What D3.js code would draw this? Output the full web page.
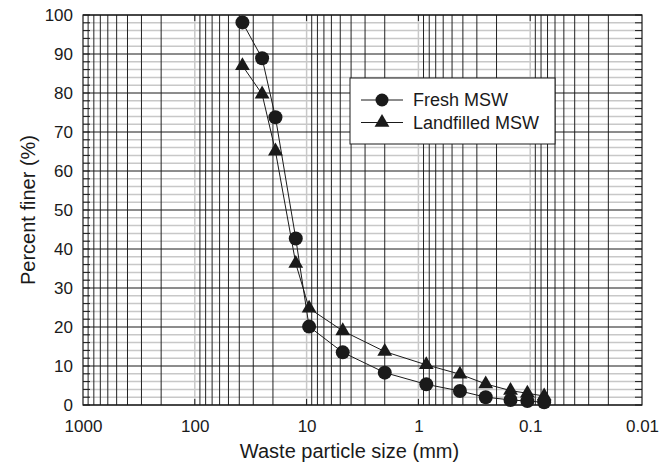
<!DOCTYPE html>
<html>
<head>
<meta charset="utf-8">
<script src="https://cdn.jsdelivr.net/npm/d3@7"></script>
<style>
  body { margin: 0; background: #fff; }
  svg text { font-family: "Liberation Sans", Arial, sans-serif; fill: #1a1a1a; }
</style>
</head>
<body>
<div id="chart"></div>
<script>
// sieve sizes (mm) and percent finer for each sample
var sizes = [37.5, 25, 19, 12.5, 9.5, 4.75, 2.0, 0.85, 0.425, 0.25, 0.15, 0.106, 0.075];
var freshPct = [98.1, 88.9, 73.8, 42.7, 20.1, 13.5, 8.3, 5.3, 3.6, 2.0, 1.3, 1.0, 0.7];
var landfilledPct = [87.0, 79.7, 65.1, 36.3, 24.8, 19.0, 13.7, 10.3, 7.9, 5.4, 3.7, 3.0, 2.3];
var xTicks = [1000, 100, 10, 1, 0.1, 0.01];
var xTickLabels = ["1000", "100", "10", "1", "0.1", "0.01"];
var yTicks = [0, 10, 20, 30, 40, 50, 60, 70, 80, 90, 100];
var seriesNames = ["Fresh MSW", "Landfilled MSW"];

var W = 659, H = 475;
var margin = {top: 15, right: 17, bottom: 70, left: 83};

var svg = d3.select("#chart").append("svg")
    .attr("width", W)
    .attr("height", H);

var x = d3.scaleLog().domain([1000, 0.01]).range([margin.left, W - margin.right]);
var y = d3.scaleLinear().domain([0, 100]).range([H - margin.bottom, margin.top]);

var grid = svg.append("g");

// light horizontal lines every 2 %
var minorY = d3.range(0, 101, 2).filter(function(d){ return d % 10 !== 0; });
grid.selectAll(".hminor").data(minorY).enter().append("line")
    .attr("x1", x.range()[0]).attr("x2", x.range()[1])
    .attr("y1", d => y(d)).attr("y2", d => y(d))
    .attr("stroke", "#c8c8c8").attr("stroke-width", 1.5);

// decade lines are light with short black ticks
grid.selectAll(".vdec").data(xTicks.slice(1, -1)).enter().append("line")
    .attr("x1", d => x(d)).attr("x2", d => x(d))
    .attr("y1", y(0)).attr("y2", y(100))
    .attr("stroke", "#c8c8c8").attr("stroke-width", 1.5);

// sub-decade vertical lines 2..9
var minorX = [];
[100, 10, 1, 0.1, 0.01].forEach(function(dec){
  for (var k = 2; k <= 9; k++) minorX.push(k * dec);
});
grid.selectAll(".vminor").data(minorX).enter().append("line")
    .attr("x1", d => x(d)).attr("x2", d => x(d))
    .attr("y1", y(0)).attr("y2", y(100))
    .attr("stroke", "#222").attr("stroke-width", 1);

// black horizontal lines every 10 %
grid.selectAll(".hmajor").data(yTicks).enter().append("line")
    .attr("x1", x.range()[0]).attr("x2", x.range()[1])
    .attr("y1", d => y(d)).attr("y2", d => y(d))
    .attr("stroke", "#1a1a1a").attr("stroke-width", 1);

// inward ticks on both sides every 2 %
var sideTicks = d3.range(0, 101, 2);
[x.range()[0], x.range()[1]].forEach(function(px, i){
  var dir = i === 0 ? 1 : -1;
  grid.selectAll(".st" + i).data(sideTicks).enter().append("line")
      .attr("x1", px).attr("x2", px + dir * 7)
      .attr("y1", d => y(d)).attr("y2", d => y(d))
      .attr("stroke", "#1a1a1a").attr("stroke-width", 1);
});

// short ticks at decades, top and bottom
xTicks.slice(1, -1).forEach(function(d){
  grid.append("line").attr("x1", x(d)).attr("x2", x(d))
      .attr("y1", y(100)).attr("y2", y(100) + 6).attr("stroke", "#1a1a1a");
  grid.append("line").attr("x1", x(d)).attr("x2", x(d))
      .attr("y1", y(0)).attr("y2", y(0) - 6).attr("stroke", "#1a1a1a");
});

// frame
svg.append("rect")
    .attr("x", x.range()[0]).attr("y", y(100))
    .attr("width", x.range()[1] - x.range()[0])
    .attr("height", y(0) - y(100))
    .attr("fill", "none").attr("stroke", "#1a1a1a").attr("stroke-width", 1.2);

// axes (labels only, ticks drawn above)
var xAxis = d3.axisBottom(x).tickValues(xTicks)
    .tickFormat((d, i) => xTickLabels[i]).tickSize(0).tickPadding(15);
var gx = svg.append("g").attr("transform", "translate(0," + y(0) + ")").call(xAxis);
gx.select(".domain").remove();
gx.selectAll("text").style("font-size", "17px").attr("font-family", null);

var yAxis = d3.axisLeft(y).tickValues(yTicks).tickSize(0).tickPadding(10);
var gy = svg.append("g").attr("transform", "translate(" + x.range()[0] + ",0)").call(yAxis);
gy.select(".domain").remove();
gy.selectAll("text").style("font-size", "17px").attr("font-family", null);

svg.append("text")
    .attr("x", (x.range()[0] + x.range()[1]) / 2 - 13)
    .attr("y", 458)
    .attr("text-anchor", "middle")
    .style("font-size", "20px")
    .text("Waste particle size (mm)");

svg.append("text")
    .attr("transform", "translate(35," + ((y(0) + y(100)) / 2) + ") rotate(-90)")
    .attr("text-anchor", "middle")
    .style("font-size", "20px")
    .text("Percent finer (%)");

// series
var line = d3.line().x(d => x(d[0])).y(d => y(d[1]));
var fresh = sizes.map((s, i) => [s, freshPct[i]]);
var land = sizes.map((s, i) => [s, landfilledPct[i]]);

svg.append("path").datum(land).attr("d", line)
    .attr("fill", "none").attr("stroke", "#1a1a1a").attr("stroke-width", 1);
svg.append("path").datum(fresh).attr("d", line)
    .attr("fill", "none").attr("stroke", "#1a1a1a").attr("stroke-width", 1);

var tri = d3.symbol().type(d3.symbolTriangle).size(95);
svg.selectAll(".tri").data(land).enter().append("path")
    .attr("d", tri)
    .attr("transform", d => "translate(" + x(d[0]) + "," + y(d[1]) + ")")
    .attr("fill", "#1a1a1a");

svg.selectAll(".dot").data(fresh).enter().append("circle")
    .attr("cx", d => x(d[0])).attr("cy", d => y(d[1]))
    .attr("r", 7).attr("fill", "#1a1a1a");

// legend
var lg = svg.append("g");
lg.append("rect").attr("x", 350).attr("y", 78).attr("width", 205).attr("height", 66)
    .attr("fill", "#fff").attr("stroke", "#1a1a1a").attr("stroke-width", 1);
seriesNames.forEach(function(name, i){
  var ly = 100 + i * 22.5;
  lg.append("line").attr("x1", 361).attr("x2", 403).attr("y1", ly).attr("y2", ly)
      .attr("stroke", "#1a1a1a");
  if (i === 0) {
    lg.append("circle").attr("cx", 382).attr("cy", ly).attr("r", 6.5).attr("fill", "#1a1a1a");
  } else {
    lg.append("path").attr("d", tri).attr("transform", "translate(382," + ly + ")").attr("fill", "#1a1a1a");
  }
  lg.append("text").attr("x", 413).attr("y", ly + 6)
      .style("font-size", "18px").text(name);
});
</script>
</body>
</html>
